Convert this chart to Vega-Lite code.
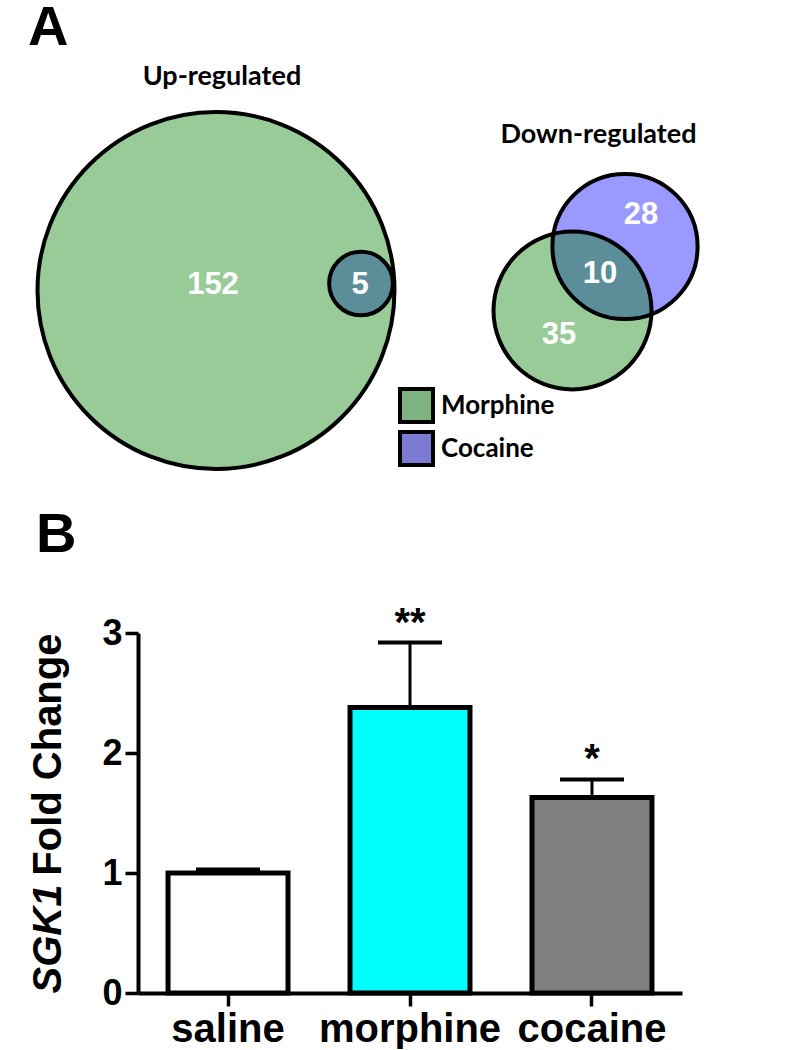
{
  "$schema": "https://vega.github.io/schema/vega-lite/v6.json",
  "background": "white",
  "padding": {"left": 28, "top": 0, "right": 0, "bottom": 0},
  "config": {
    "view": {"stroke": null},
    "font": "Liberation Sans",
    "title": {"font": "Liberation Sans", "fontWeight": "bold", "fontSize": 56, "anchor": "start", "color": "black"},
    "axisY": {"domainColor": "black", "domainWidth": 4, "tickColor": "black", "tickWidth": 3.5, "tickSize": 13, "labelFont": "Liberation Sans", "labelFontSize": 36, "labelFontWeight": "bold", "labelColor": "black", "labelPadding": 3, "grid": false, "titleFont": "Liberation Sans", "titleFontSize": 40, "titleFontWeight": "bold", "titleColor": "black", "titlePadding": 33},
    "axisX": {"domainColor": "black", "domainWidth": 4, "tickColor": "black", "tickWidth": 3.5, "tickSize": 13, "labelFont": "Liberation Sans", "labelFontSize": 40, "labelFontWeight": "bold", "labelColor": "black", "labelPadding": 3, "labelAngle": 0, "labelLimit": 0, "grid": false}
  },
  "columns": 1,
  "spacing": 25,
  "concat": [
    {
      "width": 668,
      "height": 420,
      "title": {"text": "A", "frame": "group", "dx": -110, "offset": 4},
      "layer": [
        {
          "data": {"values": [
            {"panel": "up", "set": "Cocaine", "total": 5, "x": 36.1, "y": 19.75},
            {"panel": "up", "set": "Morphine", "total": 157, "x": 21.6, "y": 19.05}
          ]},
          "mark": {"type": "point", "shape": "circle", "filled": true, "opacity": 1, "strokeWidth": 0},
          "encoding": {
            "x": {"field": "x", "type": "quantitative", "scale": {"domain": [13.8, 80.6]}, "axis": null},
            "y": {"field": "y", "type": "quantitative", "scale": {"domain": [0, 42]}, "axis": null},
            "size": {"field": "total", "type": "quantitative", "scale": {"domain": [0, 157], "range": [0, 127449]}, "legend": null},
            "fill": {"field": "set", "type": "nominal", "scale": {"domain": ["Morphine", "Cocaine"], "range": ["#007D00", "#9999FF"]}, "legend": null},
            "fillOpacity": {"condition": {"test": "datum.set === 'Morphine'", "value": 0.4}, "value": 1}
          }
        },
        {
          "data": {"values": [
            {"panel": "up", "set": "Cocaine", "total": 5, "x": 36.1, "y": 19.75},
            {"panel": "up", "set": "Morphine", "total": 157, "x": 21.6, "y": 19.05}
          ]},
          "mark": {"type": "point", "shape": "circle", "filled": true, "opacity": 1, "stroke": "black", "strokeWidth": 4},
          "encoding": {
            "x": {"field": "x", "type": "quantitative", "scale": {"domain": [13.8, 80.6]}, "axis": null},
            "y": {"field": "y", "type": "quantitative", "scale": {"domain": [0, 42]}, "axis": null},
            "size": {"field": "total", "type": "quantitative", "scale": {"domain": [0, 157], "range": [0, 127449]}, "legend": null},
            "fill": {"field": "set", "type": "nominal", "scale": {"domain": ["Morphine", "Cocaine"], "range": ["#7EB380", "#7B7BD2"]},
              "legend": {"orient": "none", "legendX": 260, "legendY": 326, "title": null, "symbolType": "square", "symbolSize": 1089, "symbolStrokeColor": "black", "symbolStrokeWidth": 4, "symbolOpacity": 1, "labelFont": "Lato", "labelFontWeight": "bold", "labelFontSize": 26, "labelColor": "black", "rowPadding": -6, "labelOffset": 6, "padding": 0}},
            "fillOpacity": {"value": 0}
          }
        },
        {
          "data": {"values": [
            {"panel": "down", "set": "Cocaine", "total": 38, "x": 62.5, "y": 23.45},
            {"panel": "down", "set": "Morphine", "total": 45, "x": 57.25, "y": 17.05}
          ]},
          "mark": {"type": "point", "shape": "circle", "filled": true, "opacity": 1, "strokeWidth": 0},
          "encoding": {
            "x": {"field": "x", "type": "quantitative", "scale": {"domain": [13.8, 80.6]}, "axis": null},
            "y": {"field": "y", "type": "quantitative", "scale": {"domain": [0, 42]}, "axis": null},
            "size": {"field": "total", "type": "quantitative", "scale": {"domain": [0, 45], "range": [0, 24964]}, "legend": null},
            "fill": {"field": "set", "type": "nominal", "scale": {"domain": ["Morphine", "Cocaine"], "range": ["#007D00", "#9999FF"]}, "legend": null},
            "fillOpacity": {"condition": {"test": "datum.set === 'Morphine'", "value": 0.4}, "value": 1}
          }
        },
        {
          "data": {"values": [
            {"panel": "down", "set": "Cocaine", "total": 38, "x": 62.5, "y": 23.45},
            {"panel": "down", "set": "Morphine", "total": 45, "x": 57.25, "y": 17.05}
          ]},
          "mark": {"type": "point", "shape": "circle", "filled": false, "opacity": 1, "stroke": "black", "strokeWidth": 4},
          "encoding": {
            "x": {"field": "x", "type": "quantitative", "scale": {"domain": [13.8, 80.6]}, "axis": null},
            "y": {"field": "y", "type": "quantitative", "scale": {"domain": [0, 42]}, "axis": null},
            "size": {"field": "total", "type": "quantitative", "scale": {"domain": [0, 45], "range": [0, 24964]}, "legend": null}
          }
        },
        {
          "data": {"values": [
            {"label": "152", "x": 21.3, "y": 19.6},
            {"label": "5", "x": 36.0, "y": 19.6},
            {"label": "28", "x": 64.1, "y": 26.6},
            {"label": "10", "x": 60.0, "y": 20.7},
            {"label": "35", "x": 55.9, "y": 14.6}
          ]},
          "mark": {"type": "text", "font": "Liberation Sans", "fontWeight": "bold", "fontSize": 31, "fill": "white", "align": "center", "baseline": "middle"},
          "encoding": {
            "x": {"field": "x", "type": "quantitative", "scale": {"domain": [13.8, 80.6]}, "axis": null},
            "y": {"field": "y", "type": "quantitative", "scale": {"domain": [0, 42]}, "axis": null},
            "text": {"field": "label"}
          }
        },
        {
          "data": {"values": [
            {"label": "Up-regulated", "x": 22.2, "y": 39.6},
            {"label": "Down-regulated", "x": 59.85, "y": 33.8}
          ]},
          "mark": {"type": "text", "font": "Lato", "fontWeight": "bold", "fontSize": 27, "fill": "black", "align": "center", "baseline": "alphabetic"},
          "encoding": {
            "x": {"field": "x", "type": "quantitative", "scale": {"domain": [13.8, 80.6]}, "axis": null},
            "y": {"field": "y", "type": "quantitative", "scale": {"domain": [0, 42]}, "axis": null},
            "text": {"field": "label"}
          }
        }
      ],
      "resolve": {"scale": {"size": "independent", "fill": "independent"}}
    },
    {
      "width": 544,
      "height": 360,
      "title": {"text": "B", "frame": "bounds", "dx": 7, "offset": 40},
      "data": {"values": [
        {"treatment": "saline", "mean": 1.0, "hi": 1.03, "sig": ""},
        {"treatment": "morphine", "mean": 2.38, "hi": 2.92, "sig": "**"},
        {"treatment": "cocaine", "mean": 1.63, "hi": 1.78, "sig": "*"}
      ]},
      "encoding": {
        "x": {"field": "treatment", "type": "nominal", "sort": null, "scale": {"paddingInner": 0.3407, "paddingOuter": 0.165}, "axis": {"title": null}}
      },
      "layer": [
        {
          "mark": {"type": "rule", "strokeWidth": 3, "color": "black"},
          "encoding": {
            "y": {"field": "mean", "type": "quantitative", "scale": {"domain": [0, 3], "nice": false}, "axis": {"title": "SGK1", "orient": "left", "titleAnchor": "start", "titleFontStyle": "italic", "values": [0, 1, 2, 3], "labelOpacity": 0, "tickOpacity": 0, "domainOpacity": 0}},
            "y2": {"field": "hi"}
          }
        },
        {
          "mark": {"type": "bar", "stroke": "black", "strokeWidth": 5, "strokeJoin": "miter"},
          "encoding": {
            "y": {"field": "mean", "type": "quantitative", "scale": {"domain": [0, 3], "nice": false}, "axis": {"title": "Fold Change", "orient": "left", "titleAnchor": "end", "values": [0, 1, 2, 3]}},
            "color": {"field": "treatment", "type": "nominal", "scale": {"domain": ["saline", "morphine", "cocaine"], "range": ["#FFFFFF", "#00FFFF", "#808080"]}, "legend": null}
          }
        },
        {
          "mark": {"type": "tick", "size": 64, "thickness": 4, "color": "black", "opacity": 1},
          "encoding": {
            "y": {"field": "hi", "type": "quantitative", "scale": {"domain": [0, 3], "nice": false}, "axis": null}
          }
        },
        {
          "mark": {"type": "text", "font": "Liberation Sans", "fontSize": 40, "fontWeight": "bold", "baseline": "alphabetic", "align": "center", "dy": -7, "color": "black"},
          "encoding": {
            "y": {"field": "hi", "type": "quantitative", "scale": {"domain": [0, 3], "nice": false}, "axis": null},
            "text": {"field": "sig"}
          }
        }
      ],
      "resolve": {"axis": {"y": "independent"}}
    }
  ]
}
